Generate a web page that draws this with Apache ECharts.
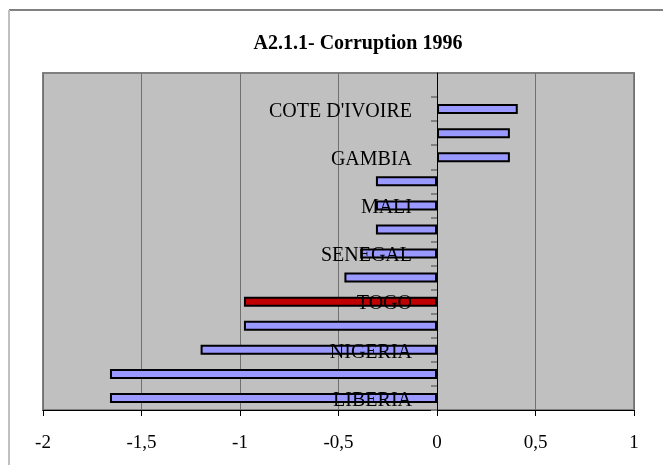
<!DOCTYPE html>
<html>
<head>
<meta charset="utf-8">
<script src="https://cdn.jsdelivr.net/npm/echarts@6/dist/echarts.min.js"></script>
<style>
    html, body { margin: 0; padding: 0; background: #fff; }
    #chart { width: 663px; height: 465px; }
</style>
</head>
<body>
<div id="chart"></div>
<script>
// categories from bottom to top (only every other label is shown)
var countries = ['LIBERIA', 'SIERRA LEONE', 'NIGERIA', 'NIGER', 'TOGO', 'GUINEE', 'SENEGAL',
    'BENIN', 'MALI', 'BURKINA FASO', 'GAMBIA', 'GHANA', "COTE D'IVOIRE", ''];
var values = [-1.66, -1.66, -1.2, -0.98, -0.98, -0.47, -0.39, -0.31, -0.31, -0.31, 0.37, 0.37, 0.41, null];
var highlight = 'TOGO';
var xTicks = ['-2', '-1,5', '-1', '-0,5', '0', '0,5', '1'];

var serif = 'Liberation Serif';
var chart = echarts.init(document.getElementById('chart'));

var gridLeft = 43, gridRight = 29;
// y axis sits on x = 0 : pixel offset from grid left edge
var plotW = 663 - gridLeft - gridRight;
var zeroOffset = -plotW * (0 - (-2)) / 3;

var barData = values.map(function (v, i) {
    return {
        value: v,
        itemStyle: { color: countries[i] === highlight ? '#c00000' : '#9999ff' }
    };
});

var option = {
    animation: false,
    title: {
        text: 'A2.1.1- Corruption 1996',
        left: 353,
        top: 29,
        textAlign: 'center',
        textStyle: { fontFamily: serif, fontSize: 20, fontWeight: 'bold', color: '#000' }
    },
    graphic: [
        { type: 'line', shape: { x1: 9, y1: 10, x2: 663, y2: 10 }, style: { stroke: '#808080', lineWidth: 2 } },
        { type: 'line', shape: { x1: 9, y1: 10, x2: 9, y2: 465 }, style: { stroke: '#c0c0c0', lineWidth: 2 } }
    ],
    grid: {
        left: gridLeft,
        right: gridRight,
        top: 73,
        bottom: 55,
        containLabel: false,
        outerBoundsMode: 'none',
        show: true,
        backgroundColor: '#c0c0c0',
        borderColor: '#808080',
        borderWidth: 2
    },
    xAxis: {
        type: 'value',
        min: -2,
        max: 1,
        interval: 0.5,
        axisLine: { show: true, onZero: false, lineStyle: { color: '#000', width: 1 } },
        axisTick: { show: true, length: 6, lineStyle: { color: '#000' } },
        axisLabel: {
            margin: 24,
            fontFamily: serif,
            fontSize: 19,
            color: '#000',
            formatter: function (v) {
                return xTicks[Math.round((v + 2) / 0.5)];
            }
        },
        splitLine: { show: true, lineStyle: { color: '#707070', width: 1 } }
    },
    yAxis: {
        type: 'category',
        data: countries,
        z: 5,
        offset: zeroOffset,
        axisLine: { show: true, onZero: false, lineStyle: { color: '#000', width: 1 } },
        axisTick: { show: true, interval: 0, length: 6, lineStyle: { color: '#808080', width: 2 } },
        axisLabel: {
            interval: 1,
            margin: 25,
            fontFamily: serif,
            fontSize: 20,
            color: '#000',
            formatter: function (v) {
                return v ? '{a|' + v + '}' : '';
            },
            rich: {
                a: { fontFamily: serif, fontSize: 20, color: '#000', padding: [5, 0, 0, 0] }
            }
        },
        splitLine: { show: false }
    },
    series: [{
        type: 'bar',
        data: barData,
        barWidth: 10,
        itemStyle: { borderColor: '#000', borderWidth: 2 }
    }]
};
chart.setOption(option);
</script>
</body>
</html>
